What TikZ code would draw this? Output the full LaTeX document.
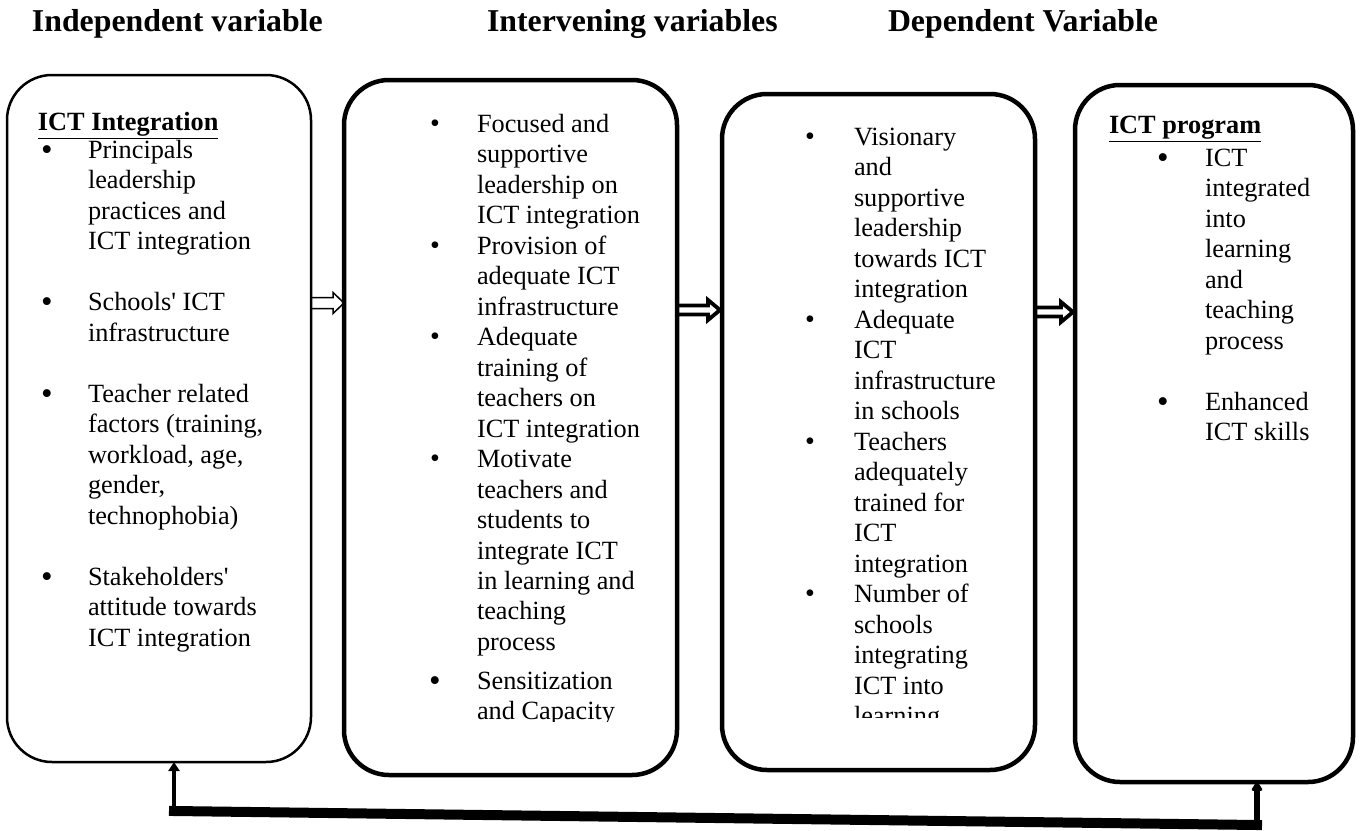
\documentclass[tikz,border=0pt]{standalone}
\usepackage{fontspec}
\setmainfont{Liberation Serif}
\usetikzlibrary{calc,arrows.meta}
\newcommand\bodyfont{\fontsize{13.15pt}{15.25pt}\selectfont}
\newcommand\hdfont{\fontsize{15.9pt}{18pt}\selectfont\bfseries}
\newcommand\sbul{\raisebox{0pt}{\fontsize{14pt}{14pt}\selectfont\textbullet}}
\newcommand\bbul{\raisebox{-1pt}{\fontsize{16.5pt}{16.5pt}\selectfont\textbullet}}
\newcommand\bit[2]{\leavevmode\llap{\makebox[0pt][c]{#1}\hspace{#2}}}
\newcommand\apo{\textquotesingle}
\begin{document}
\begin{tikzpicture}[x=0.5pt,y=-0.5pt,
  box/.style={draw, rounded corners=22.5pt, inner sep=0pt, outer sep=0pt, line width=2.25pt},
  thinbox/.style={box, line width=1.25pt},
  txt/.style={anchor=base west, inner sep=0pt, outer sep=0pt},
  hd/.style={anchor=base west, inner sep=0pt, outer sep=0pt, font=\hdfont},
  thinarrow/.style={draw, line width=0.75pt, line join=miter},
  heavyarrow/.style={draw, line width=1.9pt, line join=miter},
  fbbar/.style={line width=5pt, line cap=rect},
]
\useasboundingbox (0,0) rectangle (1360,830);

% headers
\node[hd] (h1) at (32,32) {Independent variable};
\node[hd] (h2) at (487,32) {Intervening variables};
\node[hd] (h3) at (888,32) {Dependent Variable};

% boxes
\node[thinbox, minimum width=152pt, minimum height=343.5pt] (b1) at (159,418.5) {};
\node[box, minimum width=166.5pt, minimum height=347.5pt] (b2) at (510.5,427.5) {};
\node[box, minimum width=156.5pt, minimum height=338pt] (b3) at (878.5,432) {};
\node[box, minimum width=139pt, minimum height=348.5pt] (b4) at (1214,433.5) {};

% box 1 text
\node[txt] (t1h) at (38,130) {\bodyfont\bfseries\underline{ICT Integration}};
\node[txt] (t1) at (88,158) {\parbox[t]{150pt}{\bodyfont
\bit{\bbul}{20.5pt}Principals\\
leadership\\
practices and\\
ICT integration\\
\mbox{}\\
\bit{\bbul}{20.5pt}Schools\apo{} ICT\\
infrastructure\\
\mbox{}\\
\bit{\bbul}{20.5pt}Teacher related\\
factors (training,\\
workload, age,\\
gender,\\
technophobia)\\
\mbox{}\\
\bit{\bbul}{20.5pt}Stakeholders\apo\\
attitude towards\\
ICT integration}};

% box 2 text (clipped)
\begin{scope}
\clip (344,80) rectangle (677,721);
\node[txt] (t2) at (477,132) {\parbox[t]{150pt}{\bodyfont
\bit{\sbul}{21pt}Focused and\\
supportive\\
leadership on\\
ICT integration\\
\bit{\sbul}{21pt}Provision of\\
adequate ICT\\
infrastructure\\
\bit{\sbul}{21pt}Adequate\\
training of\\
teachers on\\
ICT integration\\
\bit{\sbul}{21pt}Motivate\\
teachers and\\
students to\\
integrate ICT\\
in learning and\\
teaching\\
process\\[4pt]
\bit{\bbul}{21pt}Sensitization\\
and Capacity}};
\end{scope}

% box 3 text (clipped)
\begin{scope}
\clip (722,94) rectangle (1035,717);
\node[txt] (t3) at (854,145) {\parbox[t]{150pt}{\bodyfont
\bit{\sbul}{22pt}Visionary\\
and\\
supportive\\
leadership\\
towards ICT\\
integration\\
\bit{\sbul}{22pt}Adequate\\
ICT\\
infrastructure\\
in schools\\
\bit{\sbul}{22pt}Teachers\\
adequately\\
trained for\\
ICT\\
integration\\
\bit{\sbul}{22pt}Number of\\
schools\\
integrating\\
ICT into\\
learning}};
\end{scope}

% box 4 text
\node[txt] (t4h) at (1109,133) {\bodyfont\bfseries\underline{ICT program}};
\node[txt] (t4) at (1205,166) {\parbox[t]{150pt}{\bodyfont
\bit{\bbul}{21pt}ICT\\
integrated\\
into\\
learning\\
and\\
teaching\\
process\\
\mbox{}\\
\bit{\bbul}{21pt}Enhanced\\
ICT skills}};

% block arrows between boxes
\coordinate (s1) at (b1.east |- 0,303);
\coordinate (e1) at (b2.west |- 0,303);
\draw[thinarrow] ($(s1)+(0,-5.5)$) -- ($(e1)+(-11,-5.5)$) -- ($(e1)+(-11,-10.5)$) -- (e1)
  -- ($(e1)+(-11,10.5)$) -- ($(e1)+(-11,5.5)$) -- ($(s1)+(0,5.5)$);

\coordinate (s2) at (b2.east |- 0,310);
\coordinate (e2) at (b3.west |- 0,310);
\draw[heavyarrow] ($(s2)+(0,-4.5)$) -- ($(e2)+(-14,-4.5)$) -- ($(e2)+(-14,-10)$) -- ($(e2)+(-2,0)$)
  -- ($(e2)+(-14,10)$) -- ($(e2)+(-14,4.5)$) -- ($(s2)+(0,4.5)$);

\coordinate (s3) at (b3.east |- 0,312);
\coordinate (e3) at (b4.west |- 0,312);
\draw[heavyarrow] ($(s3)+(0,-4.5)$) -- ($(e3)+(-14,-4.5)$) -- ($(e3)+(-14,-10)$) -- ($(e3)+(-2,0)$)
  -- ($(e3)+(-14,10)$) -- ($(e3)+(-14,4.5)$) -- ($(s3)+(0,4.5)$);

% feedback connector
\coordinate (fL) at (174,811);
\coordinate (fR) at (1257,825);
\draw[fbbar] (fL) -- (fR);
\draw[line width=2pt, -{Triangle[length=4.5pt,width=5.5pt]}] (fL) -- (fL |- b1.south);
\draw[line width=3pt, -{Triangle[round,length=5pt,width=6pt]}] (fR) -- (fR |- b4.south);
\end{tikzpicture}
\end{document}
